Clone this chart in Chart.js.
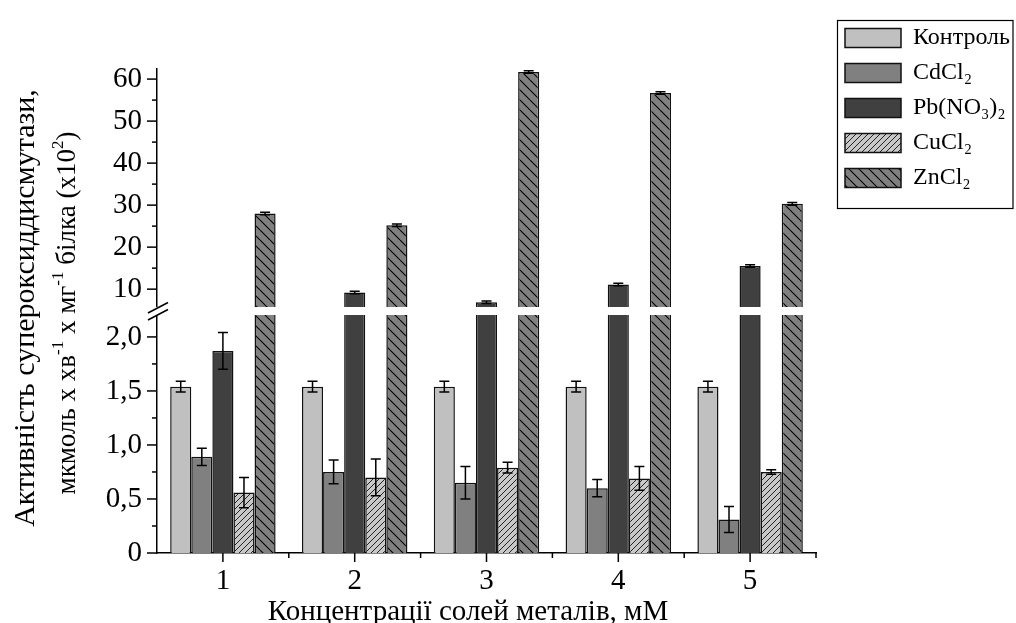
<!DOCTYPE html>
<html>
<head>
<meta charset="utf-8">
<script src="https://cdn.jsdelivr.net/npm/chart.js"></script>
<style>
  html, body { margin: 0; padding: 0; background: #fff; }
  canvas { display: block; }
</style>
</head>
<body>
<canvas id="sodChart" width="1016" height="623"></canvas>
<script>
// concentrations on the x axis
const concentrations = ['1', '2', '3', '4', '5'];
const seriesNames = ['Контроль', 'CdCl₂', 'Pb(NO₃)₂', 'CuCl₂', 'ZnCl₂'];

// activity values (lower axis in units, upper axis x10^2) and error bars
const controlVals = [1.54, 1.54, 1.54, 1.54, 1.54];
const controlErr  = [0.05, 0.05, 0.05, 0.05, 0.05];
const cdVals = [0.89, 0.75, 0.65, 0.60, 0.31];
const cdErr  = [0.08, 0.11, 0.15, 0.08, 0.12];
const pbVals = [1.87, 9.2, 6.9, 11.1, 15.5];
const pbErr  = [0.17, 0.3, 0.3, 0.3, 0.3];
const cuVals = [0.56, 0.70, 0.79, 0.69, 0.75];
const cuErr  = [0.14, 0.17, 0.05, 0.11, 0.02];
const znVals = [28.0, 25.2, 61.7, 56.7, 30.3];
const znErr  = [0.3, 0.3, 0.3, 0.3, 0.3];

// broken y axis: two ranges and their ticks
const lowRange = [0, 2.24];
const highRange = [4.8, 62.4];
const lowTicks = [0, 0.5, 1, 1.5, 2];
const lowTickLabels = ['0', '0,5', '1,0', '1,5', '2,0'];
const lowMinor = [0.25, 0.75, 1.25, 1.75];
const highTicks = [10, 20, 30, 40, 50, 60];
const highMinor = [15, 25, 35, 45, 55];

const xTitle = 'Концентрації солей металів, мМ';
const yTitle1 = 'Активність супероксиддисмутази,';
const yTitle2 = [
  { t: 'мкмоль х хв' }, { t: '-1', sup: true },
  { t: ' х мг' }, { t: '-1', sup: true },
  { t: ' білка (х10' }, { t: '2', sup: true }, { t: ')' }
];

const FONT = '"Liberation Serif", "Times New Roman", serif';
const canvas = document.getElementById('sodChart');
const ctx = canvas.getContext('2d');

function hatch(bg, size, lineColor, lw, backslash) {
  const t = document.createElement('canvas');
  t.width = t.height = size;
  const g = t.getContext('2d');
  g.fillStyle = bg;
  g.fillRect(0, 0, size, size);
  g.strokeStyle = lineColor;
  g.lineWidth = lw;
  g.beginPath();
  for (let k = -1; k <= 1; k++) {
    if (backslash) { g.moveTo(k * size, 0); g.lineTo(k * size + size, size); }
    else { g.moveTo(k * size, size); g.lineTo(k * size + size, 0); }
  }
  g.stroke();
  return ctx.createPattern(t, 'repeat');
}

const cuFill = hatch('#c8c8c8', 6, '#222', 1, false);
const znFill = hatch('#808080', 10, '#000', 1.1, true);

function bars(label, data, errors, fill, axis, stack) {
  return {
    label, data, errors,
    backgroundColor: fill,
    borderColor: '#111',
    borderWidth: 1.5,
    yAxisID: axis,
    stack,
    categoryPercentage: 0.8,
    barPercentage: 1
  };
}

// clip each dataset to its own half of the broken axis, draw error bars, ticks, break, titles
const brokenAxis = {
  id: 'brokenAxis',
  afterLayout(chart) {
    chart.legend.left += 18;
    chart.legend.right += 18;
  },
  beforeDatasetDraw(chart, args) {
    const ys = chart.scales[chart.data.datasets[args.index].yAxisID];
    const c = chart.ctx;
    c.save();
    c.beginPath();
    c.rect(chart.chartArea.left, ys.top, chart.chartArea.right - chart.chartArea.left, ys.bottom - ys.top);
    c.clip();
  },
  afterDatasetDraw(chart) {
    chart.ctx.restore();
  },
  afterDatasetsDraw(chart) {
    const c = chart.ctx;
    c.save();
    c.strokeStyle = '#000';
    c.lineWidth = 1.5;
    chart.data.datasets.forEach((ds, di) => {
      const ys = chart.scales[ds.yAxisID];
      chart.getDatasetMeta(di).data.forEach((bar, i) => {
        const v = ds.data[i], e = ds.errors[i];
        if (v < ys.min || v > ys.max) return;
        const t = ys.getPixelForValue(v + e), b = ys.getPixelForValue(v - e);
        c.beginPath();
        c.moveTo(bar.x, t); c.lineTo(bar.x, b);
        c.moveTo(bar.x - 5, t); c.lineTo(bar.x + 5, t);
        c.moveTo(bar.x - 5, b); c.lineTo(bar.x + 5, b);
        c.stroke();
      });
    });
    c.restore();
  },
  afterDraw(chart) {
    const c = chart.ctx, area = chart.chartArea;
    const lo = chart.scales.yLow, hi = chart.scales.yHigh, xs = chart.scales.x;
    const line = (x0, y0, x1, y1) => { c.beginPath(); c.moveTo(x0, y0); c.lineTo(x1, y1); c.stroke(); };
    c.save();
    c.strokeStyle = '#000';
    c.lineWidth = 1.5;
    lowTicks.forEach(v => { const y = lo.getPixelForValue(v); line(area.left - 10, y, area.left, y); });
    lowMinor.forEach(v => { const y = lo.getPixelForValue(v); line(area.left - 5, y, area.left, y); });
    highTicks.forEach(v => { const y = hi.getPixelForValue(v); line(area.left - 10, y, area.left, y); });
    highMinor.forEach(v => { const y = hi.getPixelForValue(v); line(area.left - 5, y, area.left, y); });
    const n = concentrations.length;
    for (let i = 0; i < n; i++) {
      const px = xs.getPixelForTick(i);
      line(px, area.bottom, px, area.bottom + 9);
      if (i < n - 1) {
        const mid = (px + xs.getPixelForTick(i + 1)) / 2;
        line(mid, area.bottom, mid, area.bottom + 5);
      }
    }
    line(area.right, area.bottom, area.right, area.bottom + 5);

    // axis break
    const yb = hi.bottom;
    c.fillStyle = '#fff';
    c.fillRect(area.left - 1, yb - 4, area.right - area.left + 2, 8);
    line(area.left - 9, yb + 2, area.left + 11, yb - 8.5);
    line(area.left - 9, yb + 9, area.left + 11, yb - 1.5);

    // legend frame
    const lg = chart.legend;
    c.lineWidth = 1.2;
    c.strokeRect(lg.left + 3.5, 20.5, 1013 - lg.left - 3.5, 188);

    // axis titles
    c.fillStyle = '#000';
    c.textBaseline = 'alphabetic';
    c.textAlign = 'center';
    c.font = `29px ${FONT}`;
    c.fillText(xTitle, 468, 620);

    c.save();
    c.translate(34, 308);
    c.rotate(-Math.PI / 2);
    c.font = `30px ${FONT}`;
    c.fillText(yTitle1, 0, 0);
    c.restore();

    c.save();
    c.translate(75, 313);
    c.rotate(-Math.PI / 2);
    const size = 27;
    const fontFor = p => `${p.sup ? Math.round(size * 0.62) : size}px ${FONT}`;
    const widths = yTitle2.map(p => { c.font = fontFor(p); return c.measureText(p.t).width; });
    let x = -widths.reduce((a, b) => a + b, 0) / 2;
    c.textAlign = 'left';
    yTitle2.forEach((p, i) => {
      c.font = fontFor(p);
      c.fillText(p.t, x, p.sup ? -size * 0.45 : 0);
      x += widths[i];
    });
    c.restore();
    c.restore();
  }
};

const tickFont = { family: FONT, size: 29 };

new Chart(ctx, {
  type: 'bar',
  data: {
    labels: concentrations,
    datasets: [
      bars(seriesNames[0], controlVals, controlErr, '#c0c0c0', 'yLow', 's0'),
      bars(seriesNames[1], cdVals, cdErr, '#808080', 'yLow', 's1'),
      bars(seriesNames[2], pbVals, pbErr, '#404040', 'yLow', 's2'),
      bars(seriesNames[3], cuVals, cuErr, cuFill, 'yLow', 's3'),
      bars(seriesNames[4], znVals, znErr, znFill, 'yLow', 's4'),
      bars(seriesNames[2], pbVals, pbErr, '#404040', 'yHigh', 's2'),
      bars(seriesNames[4], znVals, znErr, znFill, 'yHigh', 's4')
    ]
  },
  options: {
    responsive: false,
    devicePixelRatio: 1,
    animation: false,
    layout: { padding: { left: 97, top: 15, right: 20, bottom: 0 } },
    scales: {
      x: {
        type: 'category',
        offset: true,
        grid: { display: false, drawTicks: false },
        border: { display: true, color: '#000', width: 1.5 },
        ticks: { color: '#000', font: tickFont, padding: 11, maxRotation: 0, autoSkip: false },
        afterFit: s => { s.height = 70; }
      },
      yLow: {
        type: 'linear',
        position: 'left',
        stack: 'y',
        stackWeight: 1,
        weight: 0,
        stacked: false,
        min: lowRange[0],
        max: lowRange[1],
        grid: { display: false, drawTicks: false },
        border: { display: true, color: '#000', width: 1.5 },
        afterBuildTicks: s => { s.ticks = lowTicks.map(v => ({ value: v })); },
        ticks: {
          color: '#000',
          font: tickFont,
          padding: 15,
          autoSkip: false,
          callback: v => lowTickLabels[lowTicks.indexOf(v)]
        },
        afterFit: s => { s.width = 60; }
      },
      yHigh: {
        type: 'linear',
        position: 'left',
        stack: 'y',
        stackWeight: 1,
        weight: 1,
        stacked: false,
        min: highRange[0],
        max: highRange[1],
        grid: { display: false, drawTicks: false },
        border: { display: true, color: '#000', width: 1.5 },
        afterBuildTicks: s => { s.ticks = highTicks.map(v => ({ value: v })); },
        ticks: {
          color: '#000',
          font: tickFont,
          padding: 15,
          autoSkip: false,
          callback: v => String(v)
        },
        afterFit: s => { s.width = 60; }
      }
    },
    plugins: {
      title: { display: true, text: '', padding: 0, font: { size: 54, lineHeight: 1 } },
      tooltip: { enabled: false },
      legend: {
        position: 'right',
        align: 'start',
        maxWidth: 180,
        labels: {
          color: '#000',
          font: { family: FONT, size: 24 },
          boxWidth: 56,
          boxHeight: 19,
          padding: 11,
          filter: item => item.datasetIndex < 5
        }
      }
    }
  },
  plugins: [brokenAxis]
});
</script>
</body>
</html>
